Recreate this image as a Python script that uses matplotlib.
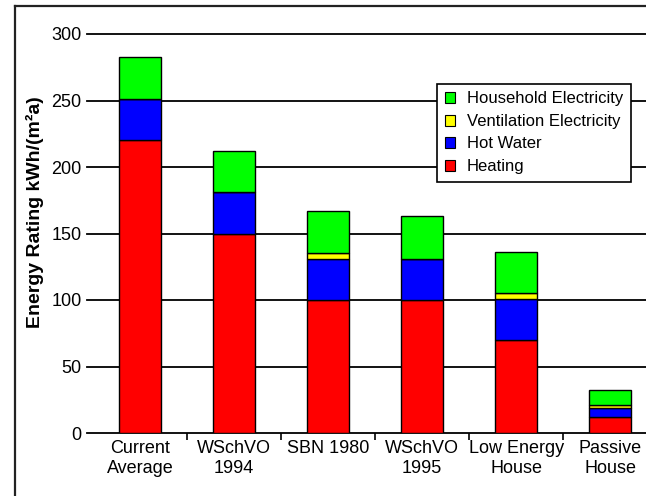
import matplotlib
matplotlib.use("Agg")
import matplotlib.pyplot as plt
from matplotlib.patches import Patch
from matplotlib.lines import Line2D
import numpy as np

categories = ["Current\nAverage", "WSchVO\n1994", "SBN 1980", "WSchVO\n1995", "Low Energy\nHouse", "Passive\nHouse"]
heating = [220, 150, 100, 100, 70, 12]
hot_water = [31, 31, 31, 31, 31, 7]
ventilation = [0, 0, 4, 0, 4, 2]
household = [32, 31, 32, 32, 31, 11]
series_names = ["Heating", "Hot Water", "Ventilation Electricity", "Household Electricity"]
series_colors = ["#ff0000", "#0000ff", "#ffff00", "#00ff00"]
yticks = [0, 50, 100, 150, 200, 250, 300]

plt.rcParams['font.family'] = ['Liberation Sans', 'DejaVu Sans']

W, H = 646, 496
fig = plt.figure(figsize=(W / 100, H / 100), dpi=100)
fig.patch.set_facecolor("white")

ax_l, ax_r = 87, 646
ax_b, ax_t = 433, 34
ax = fig.add_axes([ax_l / W, (H - ax_b) / H, (ax_r - ax_l) / W, (ax_b - ax_t) / H])

x = np.arange(len(categories))
bw = 0.45
bottom = np.zeros(len(categories))
for vals, name, col in zip([heating, hot_water, ventilation, household], series_names, series_colors):
    v = np.array(vals, dtype=float)
    ax.bar(x, v, bw, bottom=bottom, color=col, edgecolor="black", linewidth=1.0, zorder=3, label=name)
    bottom += v

ax.set_xlim(-0.564, 5.38)
ax.set_ylim(0, 300)
ax.set_yticks(yticks)
ax.set_yticklabels([str(t) for t in yticks], fontsize=13)
ax.tick_params(axis='y', length=0, pad=4)
for t in yticks:
    ax.axhline(t, color="black", linewidth=1.3, zorder=1, clip_on=False)

ax.set_xticks(x)
ax.set_xticklabels(categories, fontsize=13, linespacing=1.25)
ax.tick_params(axis='x', which='major', length=0, pad=5)
ax.set_xticks(np.arange(0.5, 5.0, 1.0), minor=True)
ax.tick_params(axis='x', which='minor', length=5, width=1.2, color="black", direction='out')

for s in ["top", "right", "left", "bottom"]:
    ax.spines[s].set_visible(False)

fig.text(35 / W, 1 - 212 / H, "Energy Rating kWh/(m²a)", rotation=90, fontsize=14,
         fontweight="bold", ha="center", va="center")

handles = [Patch(facecolor=c, edgecolor="black", linewidth=0.8) for c in series_colors]
leg_h = handles[::-1]
leg_l = series_names[::-1]
leg = ax.legend(leg_h, leg_l, loc="upper left", bbox_to_anchor=((437 - ax_l) / (ax_r - ax_l), (ax_b - 84) / (ax_b - ax_t)),
                fontsize=12, frameon=True, fancybox=False, framealpha=1, edgecolor="black",
                handlelength=0.65, handleheight=0.65, handletextpad=0.7, labelspacing=0.45,
                borderpad=0.45, borderaxespad=0)
leg.get_frame().set_linewidth(1.2)
leg.set_zorder(5)

# figure border
fig.add_artist(Line2D([15 / W, 15 / W], [0, 1 - 6 / H], transform=fig.transFigure, color="#222222", linewidth=1.6))
fig.add_artist(Line2D([15 / W, 1], [1 - 6 / H, 1 - 6 / H], transform=fig.transFigure, color="#222222", linewidth=1.6))

fig.savefig("out.png", dpi=100)
